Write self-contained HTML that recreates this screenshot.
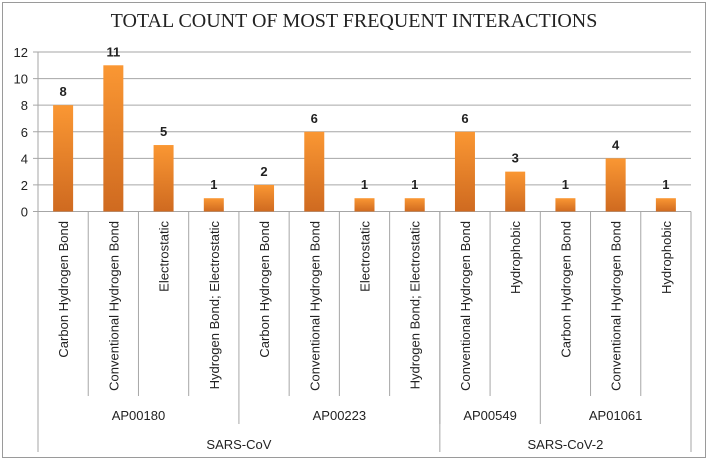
<!DOCTYPE html>
<html><head><meta charset="utf-8"><style>
body{margin:0;background:#fff;}
svg{display:block;}
</style></head><body>
<svg id="chart" width="709" height="461" font-family="Liberation Sans, sans-serif">
<defs><linearGradient id="bg" x1="0" y1="0" x2="0" y2="1"><stop offset="0" stop-color="#fa9733"/><stop offset="1" stop-color="#cf6a20"/></linearGradient></defs>
<rect x="2.5" y="2.5" width="703" height="455" fill="#fff" stroke="#9a9a9a"/>
<text x="354" y="27" text-anchor="middle" font-family="Liberation Serif, serif" font-size="20" fill="#222">TOTAL COUNT OF MOST FREQUENT INTERACTIONS</text>
<g id="grid"></g><g id="bars"></g><g id="xaxis"></g>
</svg>
<script>
const categories=["Carbon Hydrogen Bond","Conventional Hydrogen Bond","Electrostatic","Hydrogen Bond; Electrostatic","Carbon Hydrogen Bond","Conventional Hydrogen Bond","Electrostatic","Hydrogen Bond; Electrostatic","Conventional Hydrogen Bond","Hydrophobic","Carbon Hydrogen Bond","Conventional Hydrogen Bond","Hydrophobic"];
const counts=[8,11,5,1,2,6,1,1,6,3,1,4,1];
const peptides=["AP00180","AP00223","AP00549","AP01061"];
const peptideSizes=[4,4,2,3];
const viruses=["SARS-CoV","SARS-CoV-2"];
const virusSizes=[8,5];
const yTicks=[0,2,4,6,8,10,12];
const NS="http://www.w3.org/2000/svg";
const x0=38,x1=691,y0=211.5,yTop=52,yMax=12;
const cw=(x1-x0)/categories.length;
const y=v=>y0-(y0-yTop)*v/yMax;
const xc=i=>x0+cw*(i+0.5);
function mk(tag,attrs,parent,txt){const e=document.createElementNS(NS,tag);for(const k in attrs)e.setAttribute(k,attrs[k]);if(txt!==undefined)e.textContent=txt;parent.appendChild(e);return e;}
const grid=document.getElementById('grid'),bars=document.getElementById('bars'),xa=document.getElementById('xaxis');
yTicks.forEach(t=>{
 const l=mk('line',{x1:x0-5,x2:x1,y1:y(t),y2:y(t),stroke:'#a6a6a6','stroke-width':1},grid);
 
 
 const tx=mk('text',{x:x0-10,y:y(t)+5,'text-anchor':'end','font-size':13,fill:'#222'},grid,String(t));
 
 
});
const ax=mk('line',{x1:x0,x2:x0,y1:yTop,y2:452,stroke:'#a6a6a6'},grid);


mk('line',{x1:x1,x2:x1,y1:y0,y2:452,stroke:'#a6a6a6'},grid);
counts.forEach((v,i)=>{
 const r=mk('rect',{x:xc(i)-10,y:y(v),width:20,height:y0-y(v),fill:'url(#bg)'},bars);
 
 
 const t=mk('text',{x:xc(i),y:y(v)-9,'text-anchor':'middle','font-size':13,'font-weight':'bold',fill:'#222'},bars,String(v));
 
 
 const c=mk('text',{transform:`translate(${xc(i)+5},221) rotate(-90)`,'text-anchor':'end','font-size':13,fill:'#222'},xa,categories[i]);
 
 
 if(i>0){mk('line',{x1:x0+cw*i,x2:x0+cw*i,y1:y0,y2:396,stroke:'#a6a6a6'},xa);}
});
let acc=0;
peptides.forEach((p,j)=>{
 const a=x0+cw*acc;acc+=peptideSizes[j];const b=x0+cw*acc;
 const t=mk('text',{x:(a+b)/2,y:420,'text-anchor':'middle','font-size':13,fill:'#222'},xa,p);
 
 
 if(j>0)mk('line',{x1:a,x2:a,y1:396,y2:424,stroke:'#a6a6a6'},xa);
});
acc=0;
viruses.forEach((p,j)=>{
 const a=x0+cw*acc;acc+=virusSizes[j];const b=x0+cw*acc;
 const t=mk('text',{x:(a+b)/2,y:449,'text-anchor':'middle','font-size':13,fill:'#222'},xa,p);
 
 
 if(j>0)mk('line',{x1:a,x2:a,y1:y0,y2:452,stroke:'#a6a6a6'},xa);
});
</script>
</body></html>
